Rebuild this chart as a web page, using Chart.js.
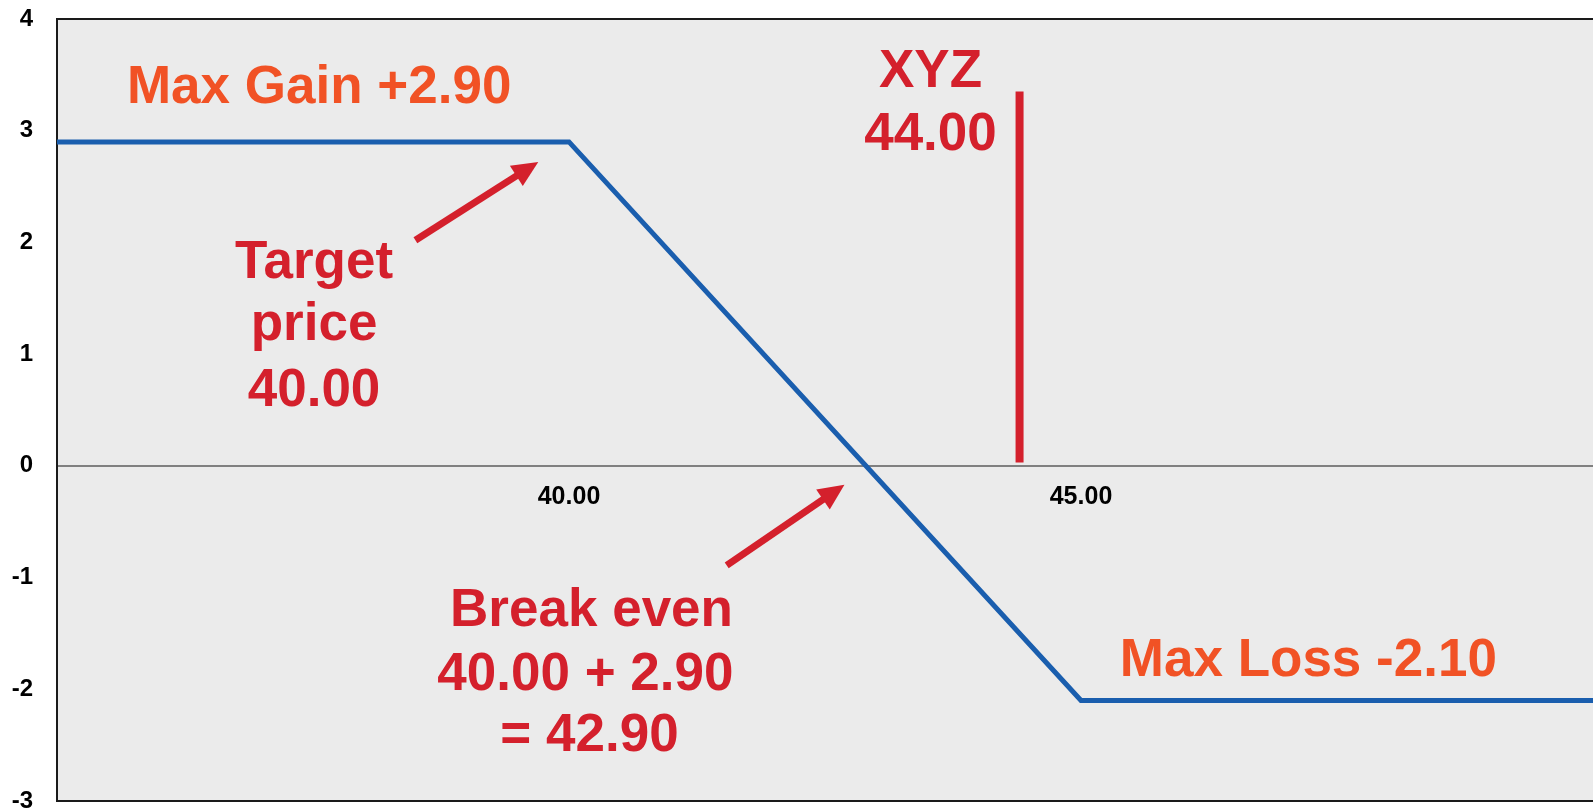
<!DOCTYPE html>
<html>
<head>
<meta charset="utf-8">
<title>Payoff</title>
<script src="https://cdn.jsdelivr.net/npm/chart.js@4.4.1/dist/chart.umd.min.js"></script>
<style>
    html, body { margin: 0; padding: 0; background: #ffffff; }
    canvas { display: block; }
</style>
</head>
<body>
<canvas id="payoffChart" width="1593" height="811"></canvas>
<script>
// axis ranges and tick labels
const xRange = [35, 50];
const yRange = [-3, 4];
const xTickValues = [40, 45];

// payoff line (stock price -> profit/loss)
const payoffPrices = [35, 40, 45, 50];
const payoffValues = [2.9, 2.9, -2.1, -2.1];

// current stock price marker
const stockPrices = [44.4, 44.4];
const stockMarker = [0.03, 3.35];

// big labels: text, centre x, baseline y (in chart values)
const noteTexts = ['Max Gain +2.90', 'XYZ', '44.00', 'Target', 'price', '40.00',
                   'Break even', '40.00 + 2.90', '= 42.90', 'Max Loss -2.10'];
const noteX = [37.56, 43.53, 43.53, 37.51, 37.51, 37.51, 40.22, 40.16, 40.20, 47.22];
const noteY = [3.25, 3.39, 2.83, 1.68, 1.13, 0.54, -1.43, -2.01, -2.55, -1.88];
const noteTone = ['orange', 'red', 'red', 'red', 'red', 'red', 'red', 'red', 'red', 'orange'];

// arrows: from (x, y) to (x, y)
const arrowFromX = [38.50, 41.54];
const arrowFromY = [2.02, -0.89];
const arrowToX = [39.70, 42.69];
const arrowToY = [2.72, -0.17];

const RED = '#d4202c';
const ORANGE = '#f15225';
const FONT = '"Liberation Sans", Arial, Helvetica, sans-serif';

const plotFrame = {
    id: 'plotFrame',
    beforeDraw(chart) {
        const {ctx, chartArea: a} = chart;
        ctx.save();
        ctx.fillStyle = '#ebebeb';
        ctx.fillRect(a.left, a.top, a.right - a.left, a.bottom - a.top);
        ctx.restore();
    },
    afterDraw(chart) {
        const {ctx, chartArea: a} = chart;
        ctx.save();
        ctx.strokeStyle = '#1a1a1a';
        ctx.lineWidth = 2;
        ctx.beginPath();
        ctx.moveTo(a.left - 1, a.top);
        ctx.lineTo(a.right, a.top);
        ctx.moveTo(a.left - 1, a.bottom);
        ctx.lineTo(a.right, a.bottom);
        ctx.stroke();
        ctx.restore();
    }
};

function drawArrow(ctx, x1, y1, x2, y2) {
    const ang = Math.atan2(y2 - y1, x2 - x1);
    const headLen = 26, headHalf = 12;
    const bx = x2 - headLen * Math.cos(ang);
    const by = y2 - headLen * Math.sin(ang);
    ctx.strokeStyle = RED;
    ctx.fillStyle = RED;
    ctx.lineWidth = 7;
    ctx.lineCap = 'butt';
    ctx.beginPath();
    ctx.moveTo(x1, y1);
    ctx.lineTo(bx + 2 * Math.cos(ang), by + 2 * Math.sin(ang));
    ctx.stroke();
    ctx.beginPath();
    ctx.moveTo(x2, y2);
    ctx.lineTo(bx + headHalf * Math.sin(ang), by - headHalf * Math.cos(ang));
    ctx.lineTo(bx - headHalf * Math.sin(ang), by + headHalf * Math.cos(ang));
    ctx.closePath();
    ctx.fill();
}

const callouts = {
    id: 'callouts',
    afterDatasetsDraw(chart) {
        const {ctx, scales: {x, y}} = chart;
        ctx.save();
        ctx.font = 'bold 53px ' + FONT;
        ctx.textAlign = 'center';
        ctx.textBaseline = 'alphabetic';
        noteTexts.forEach((t, i) => {
            ctx.fillStyle = noteTone[i] === 'orange' ? ORANGE : RED;
            ctx.fillText(t, x.getPixelForValue(noteX[i]), y.getPixelForValue(noteY[i]));
        });
        arrowFromX.forEach((v, i) => {
            drawArrow(ctx,
                x.getPixelForValue(v), y.getPixelForValue(arrowFromY[i]),
                x.getPixelForValue(arrowToX[i]), y.getPixelForValue(arrowToY[i]));
        });
        ctx.restore();
    }
};

const ctx = document.getElementById('payoffChart').getContext('2d');
new Chart(ctx, {
    type: 'line',
    data: {
        datasets: [{
            data: payoffPrices.map((p, i) => ({x: p, y: payoffValues[i]})),
            borderColor: '#1a5eae',
            borderWidth: 5,
            pointRadius: 0,
            tension: 0
        }, {
            data: stockPrices.map((p, i) => ({x: p, y: stockMarker[i]})),
            borderColor: RED,
            borderWidth: 8,
            borderCapStyle: 'butt',
            pointRadius: 0,
            tension: 0
        }]
    },
    options: {
        responsive: false,
        animation: false,
        layout: { padding: { left: 0, top: 19, right: 0, bottom: 10 } },
        plugins: {
            legend: { display: false },
            tooltip: { enabled: false }
        },
        scales: {
            x: {
                type: 'linear',
                position: { y: 0 },
                min: xRange[0],
                max: xRange[1],
                grid: { display: false, drawTicks: false },
                border: { display: true, color: '#808080', width: 2 },
                afterBuildTicks: (scale) => {
                    scale.ticks = xTickValues.map(v => ({ value: v }));
                },
                afterFit: (scale) => {
                    scale.height = 0;
                    scale.paddingLeft = 0;
                    scale.paddingRight = 0;
                },
                ticks: {
                    padding: 16,
                    maxRotation: 0,
                    autoSkip: false,
                    color: '#000000',
                    font: { family: FONT, size: 25, weight: 'bold' },
                    callback: (v) => Number(v).toFixed(2)
                }
            },
            y: {
                min: yRange[0],
                max: yRange[1],
                grid: { display: false, drawTicks: false },
                border: { display: true, color: '#1a1a1a', width: 2 },
                afterFit: (scale) => {
                    scale.width = 57;
                    scale.paddingTop = 0;
                    scale.paddingBottom = 0;
                },
                ticks: {
                    stepSize: 1,
                    padding: 24,
                    color: '#000000',
                    font: { family: FONT, size: 24, weight: 'bold' }
                }
            }
        }
    },
    plugins: [plotFrame, callouts]
});
</script>
</body>
</html>
